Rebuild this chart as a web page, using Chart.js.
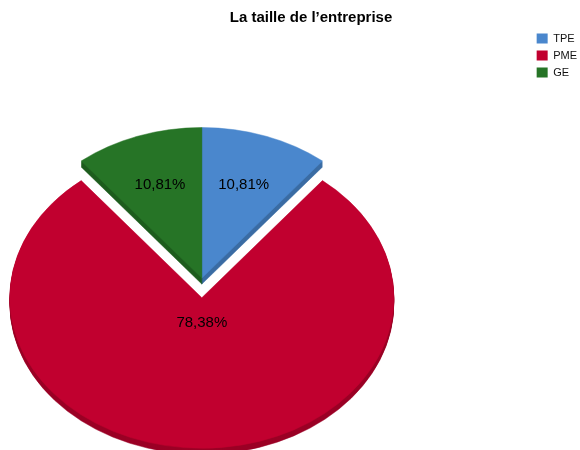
<!DOCTYPE html>
<html>
<head>
<meta charset="utf-8">
<title>La taille de l’entreprise</title>
<script src="https://cdn.jsdelivr.net/npm/chart.js@4.4.1/dist/chart.umd.min.js"></script>
<style>
  body { margin: 0; background: #ffffff; }
  #wrap { width: 580px; height: 450px; }
</style>
</head>
<body>
<div id="wrap"><canvas id="pie-chart" width="580" height="450"></canvas></div>
<script>
const categories = ['TPE', 'PME', 'GE'];
const counts = [4, 29, 4];
const sliceColors = ['#4a87cd', '#c1002f', '#267426'];
const explode = [0, 25, 0];

const total = counts.reduce((a, b) => a + b, 0);
const percentLabels = counts.map(v => (v / total * 100).toFixed(2).replace('.', ',') + '%');

// pie is laid flat on the bottom of the chart area, with a thin side (SPSS 3D pie)
const SQUASH = 0.784;
const DEPTH = 6;

Chart.defaults.font.family = "'Liberation Sans', Arial, sans-serif";

// empty box between the pie and the legend
const legendGap = {
  id: 'legendGap',
  beforeInit(chart) {
    Chart.layouts.addBox(chart, {
      position: 'right',
      weight: 500,
      fullSize: false,
      options: {},
      update(maxWidth, maxHeight) {
        this.width = 162;
        this.height = maxHeight;
      },
      isHorizontal() { return false; },
      draw() {}
    });
  }
};

const tiltedPie = {
  id: 'tiltedPie',
  beforeDatasetDraw(chart, args) {
    const ctx = chart.ctx;
    const arcs = args.meta.data;
    const floor = chart.chartArea.bottom;

    const paint = (lift) => arcs.forEach(arc => {
      const {x, y, startAngle, endAngle, outerRadius} = arc;
      const mid = (startAngle + endAngle) / 2;
      const off = arc.options.offset || 0;
      const px = x + Math.cos(mid) * off;
      const py = y + Math.sin(mid) * off;
      ctx.save();
      ctx.translate(0, floor + lift);
      ctx.scale(1, SQUASH);
      ctx.translate(0, -floor);
      ctx.beginPath();
      ctx.moveTo(px, py);
      ctx.arc(px, py, outerRadius, startAngle, endAngle);
      ctx.closePath();
      ctx.fillStyle = arc.options.backgroundColor;
      ctx.strokeStyle = arc.options.backgroundColor;
      ctx.lineWidth = 0.6;
      ctx.fill();
      ctx.stroke();
      ctx.restore();
    });

    ctx.save();
    ctx.filter = 'brightness(0.8)';
    for (let d = DEPTH; d > 0; d--) paint(d);
    ctx.restore();
    paint(0);

    // percentages sit on the centroid of each slice
    ctx.save();
    ctx.font = "15px 'Liberation Sans', Arial, sans-serif";
    ctx.fillStyle = '#000000';
    ctx.textAlign = 'center';
    ctx.textBaseline = 'middle';
    arcs.forEach((arc, i) => {
      const {x, y, startAngle, endAngle, outerRadius} = arc;
      const half = (endAngle - startAngle) / 2;
      const mid = startAngle + half;
      const r = (arc.options.offset || 0) + 2 * outerRadius * Math.sin(half) / (3 * half);
      const lx = x + Math.cos(mid) * r;
      const ly = floor + (y + Math.sin(mid) * r - floor) * SQUASH;
      ctx.fillText(percentLabels[i], lx, ly);
    });
    ctx.restore();
    return false;
  }
};

new Chart(document.getElementById('pie-chart'), {
  type: 'pie',
  data: {
    labels: categories,
    datasets: [{
      data: counts,
      backgroundColor: sliceColors,
      offset: explode,
      borderWidth: 0,
      radius: 192
    }]
  },
  options: {
    responsive: false,
    animation: false,
    events: [],
    layout: {
      padding: { left: 35, right: -7, top: 0, bottom: 10 }
    },
    plugins: {
      title: {
        display: true,
        text: 'La taille de l’entreprise',
        color: '#000000',
        font: { size: 15, weight: 'bold' },
        padding: { top: 9, bottom: 0 }
      },
      legend: {
        position: 'right',
        align: 'start',
        fullSize: false,
        labels: {
          boxWidth: 11,
          boxHeight: 10,
          padding: 6,
          color: '#111111',
          font: { size: 11 }
        }
      },
      tooltip: { enabled: false }
    }
  },
  plugins: [legendGap, tiltedPie]
});
</script>
</body>
</html>
